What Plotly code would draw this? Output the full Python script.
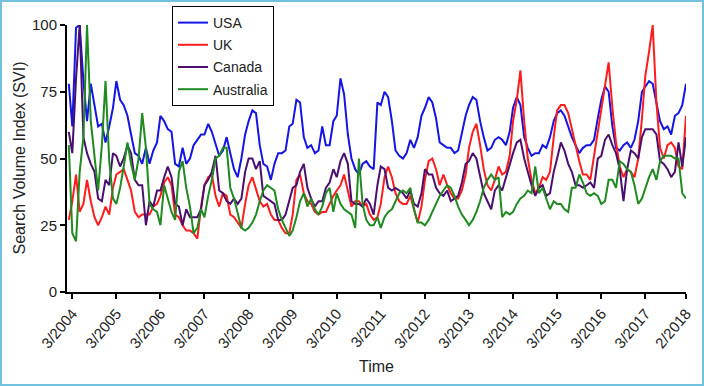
import pandas as pd
import plotly.graph_objects as go

# Monthly Google Trends style data, Feb 2004 .. Feb 2018
months = pd.date_range("2004-02-01", "2018-02-01", freq="MS")

usa = [78,62,99,100,79,64,78,69,62,63, 56,62,69,79,72,70,66,59,52,51,
       48,54,48,53,56,66,64,61,60,48, 47,54,48,50,55,57,59,59,63,60,
       55,51,53,58,52,46,43,50,59,64, 68,67,55,48,47,42,48,52,52,53,
       62,63,72,71,58,54,55,52,53,62, 55,55,64,66,80,74,59,50,46,44,
       48,49,47,46,71,70,75,73,64,53, 51,50,52,57,54,58,66,69,73,71,
       65,56,55,54,54,52,53,60,66,70, 73,72,64,58,53,54,57,58,57,55,
       60,69,73,70,58,54,51,52,52,55, 54,58,64,67,68,66,62,58,55,52,
       54,55,55,57,65,72,77,75,62,54, 53,55,56,54,57,64,75,77,79,78,
       71,64,61,62,59,66,67,70,78]

uk = [27,34,44,30,33,42,34,28,25,28, 32,29,39,44,45,46,42,38,30,28,
      29,29,29,32,33,36,41,43,40,29, 28,25,23,23,22,20,32,40,43,44,
      36,32,37,36,29,28,26,24,33,40, 43,39,34,32,33,29,27,27,24,22,
      22,29,42,44,37,34,33,30,29,30, 30,33,36,38,40,44,38,32,34,34,
      32,33,29,27,28,33,43,47,43,37, 34,33,33,36,31,26,32,42,49,50,
      46,40,44,40,37,35,35,38,44,54, 60,63,55,46,40,38,42,47,44,45,
      51,64,72,83,64,50,42,37,39,43, 42,45,58,68,70,70,67,61,54,49,
      44,44,42,51,60,69,77,86,69,56, 47,43,46,45,43,50,65,81,90,100,
      71,54,50,55,56,54,47,46,66]

canada = [60,52,80,100,58,52,48,45,35,34, 42,40,52,51,47,50,55,52,42,40,
          40,25,34,32,38,38,43,47,43,33, 32,25,31,28,28,28,31,40,42,45,
          51,38,37,34,33,35,33,35,45,50, 50,46,49,36,35,34,33,27,27,29,
          34,39,40,45,48,39,35,32,34,34, 39,41,46,43,49,52,48,34,33,33,
          32,35,33,29,40,47,46,39,38,39, 38,37,35,38,33,32,37,46,44,44,
          39,37,36,38,34,35,36,41,48,49, 52,50,44,37,34,31,38,40,38,43,
          48,52,56,57,50,45,40,36,39,40, 36,37,45,50,56,53,48,45,40,40,
          39,40,41,39,50,51,57,59,55,52, 46,34,46,53,52,50,58,61,61,61,
          59,49,48,46,43,45,56,47,58]

australia = [55,22,19,45,58,100,64,52,38,55, 79,49,35,33,39,47,56,48,42,50,
             67,54,33,31,30,25,40,35,30,27, 45,49,39,32,22,24,31,28,36,42,
             50,51,54,54,39,35,30,24,23,24, 26,29,34,38,40,39,38,31,27,24,
             21,23,28,34,37,32,35,31,29,32, 37,39,30,37,33,31,30,29,24,50,
             33,27,25,25,28,24,28,30,31,34, 37,38,37,39,31,26,26,25,27,30,
             33,36,38,40,39,36,32,29,27,25, 27,30,34,39,42,44,42,43,28,30,
             29,30,33,35,36,38,37,47,37,39, 35,31,34,33,33,31,30,39,39,44,
             41,37,36,37,36,33,34,42,42,39, 49,48,46,45,40,33,35,39,43,46,
             42,49,51,51,51,50,50,37,35]

tick_dates = list(pd.date_range("2004-03-01", "2017-03-01", freq="12MS")) + [pd.Timestamp("2018-02-01")]
tick_text = [f"{d.month}/{d.year}" for d in tick_dates]

series = [
    ("USA", usa, "#1414e6"),
    ("UK", uk, "#ff1c1c"),
    ("Canada", canada, "#4a0f6e"),
    ("Australia", australia, "#1f8a1f"),
]

fig = go.Figure()
for name, vals, col in series:
    fig.add_trace(go.Scatter(x=months, y=vals, mode="lines", name=name,
                             legendgroup=name,
                             line=dict(color=col, width=2)))

W, H = 704, 386
ML, MR, MT, MB = 67, 18, 25, 94
pw, ph = W - ML - MR, H - MT - MB

fig.update_layout(
    width=W, height=H,
    margin=dict(l=ML, r=MR, t=MT, b=MB, autoexpand=False),
    paper_bgcolor="white", plot_bgcolor="white",
    font=dict(family="Liberation Sans, Arial, sans-serif", color="#222", size=14),
    showlegend=True,
    legend=dict(xref="container", yref="container",
                x=172 / W, y=1 - 6 / H, xanchor="left", yanchor="top",
                bordercolor="black", borderwidth=1, bgcolor="white",
                font=dict(size=14, color="#222"), itemwidth=30,
                entrywidth=58, entrywidthmode="pixels",
                tracegroupgap=1),
)

fig.update_xaxes(
    range=[pd.Timestamp("2004-01-17"), pd.Timestamp("2018-02-01")],
    tickmode="array", tickvals=tick_dates, ticktext=tick_text,
    tickangle=-50, ticks="outside", ticklen=5, tickwidth=2, tickcolor="black",
    showline=True, linecolor="black", linewidth=2, showgrid=False, zeroline=False,
    title=dict(text="Time", font=dict(size=16, color="#222"), standoff=10),
    tickfont=dict(size=15, color="#222"),
)
fig.update_yaxes(
    range=[0, 100], tickvals=[0, 25, 50, 75, 100],
    ticks="outside", ticklen=5, tickwidth=2, tickcolor="black",
    showline=True, linecolor="black", linewidth=2, showgrid=False, zeroline=False,
    tickfont=dict(size=15, color="#222"),
)

# y-axis title as a rotated annotation
fig.add_annotation(text="Search Volume Index (SVI)", textangle=-90,
                   xref="paper", yref="paper", x=(19 - ML) / pw, y=0.5,
                   xanchor="center", yanchor="middle", showarrow=False,
                   font=dict(size=16, color="#222"))

# light-blue frame around the whole figure
fig.add_shape(type="rect", xref="paper", yref="paper",
              x0=(1 - ML) / pw, x1=(W - 1 - ML) / pw,
              y0=(1 - MB) / ph, y1=(H - MB - 1) / ph,
              line=dict(color="#72c2de", width=2), fillcolor="rgba(0,0,0,0)", layer="below")

fig.write_html("out.html", config={"displayModeBar": False},
               post_script="document.body.style.margin='0';document.body.style.overflow='hidden';")
